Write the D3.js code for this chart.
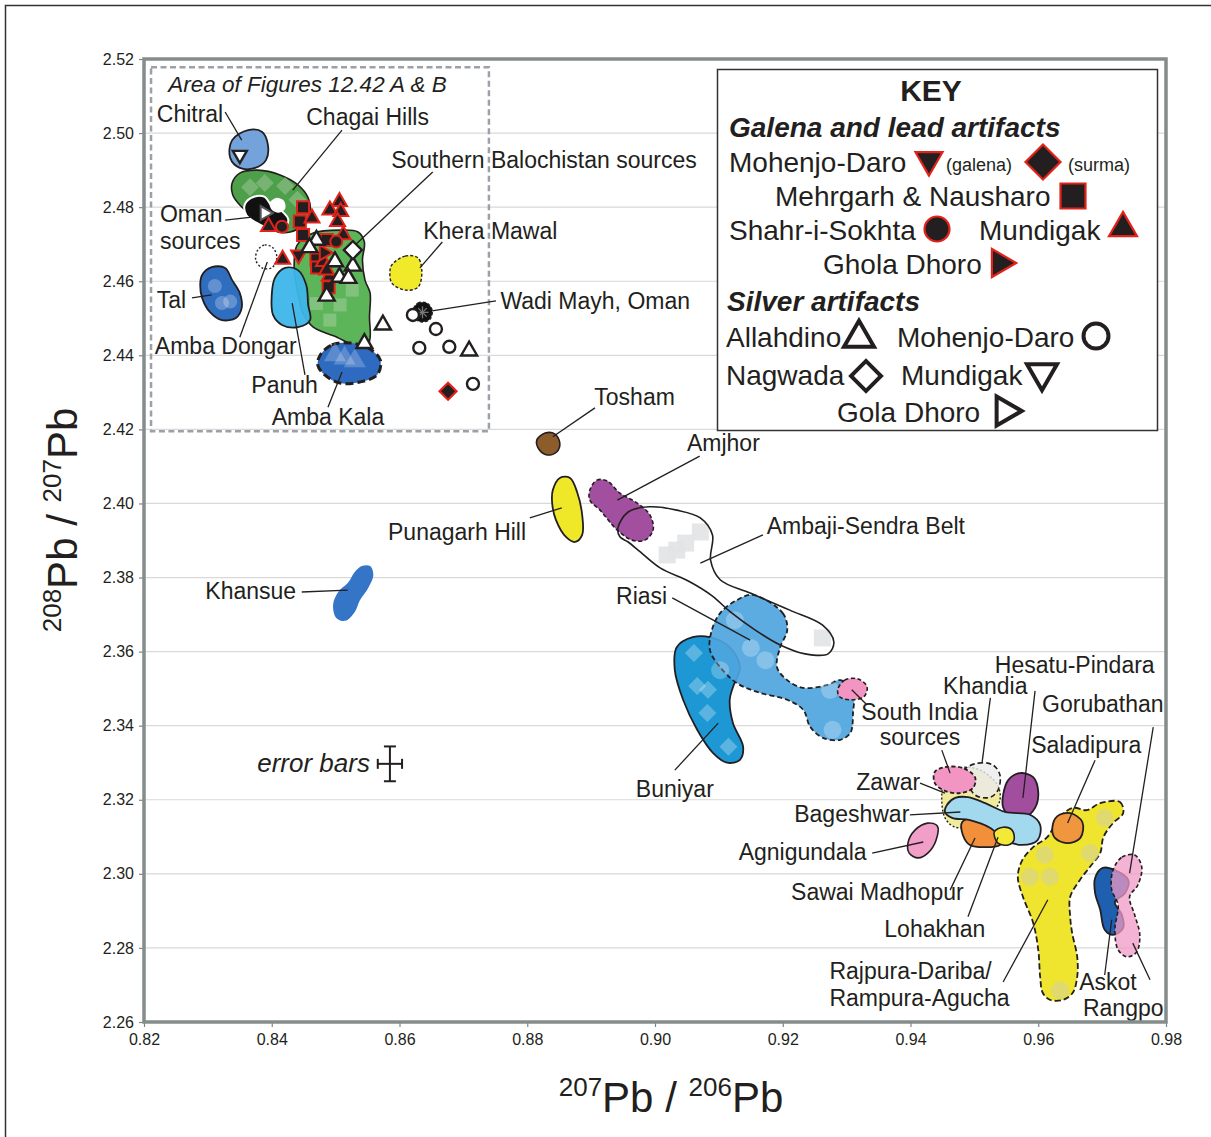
<!DOCTYPE html>
<html>
<head>
<meta charset="utf-8">
<script src="https://cdn.jsdelivr.net/npm/d3@7"></script>
<style>
  body { margin: 0; background: #fff; }
  svg { display: block; }
  text { font-family: "Liberation Sans", Arial, sans-serif; fill: #231f20; }
</style>
</head>
<body>
<svg id="chart" width="1211" height="1137"></svg>
<script>
// ---------- axis ticks ----------
const xTicks = [0.82, 0.84, 0.86, 0.88, 0.90, 0.92, 0.94, 0.96, 0.98];
const yTicks = [2.26, 2.28, 2.30, 2.32, 2.34, 2.36, 2.38, 2.40, 2.42, 2.44, 2.46, 2.48, 2.50, 2.52];

// ---------- ore source fields: outlines as [207Pb/206Pb, 208Pb/207Pb] ----------
const chitral = [[0.8338,2.4981],[0.8363,2.5008],[0.8385,2.5003],[0.8394,2.4968],[0.8391,2.4927],[0.8374,2.4906],[0.8350,2.4906],[0.8335,2.4933]];
const chagaiHills = [[0.8338,2.4865],[0.8350,2.4892],[0.8378,2.4900],[0.8413,2.4887],[0.8441,2.4860],[0.8457,2.4825],[0.8460,2.4787],[0.8449,2.4752],[0.8429,2.4733],[0.8400,2.4738],[0.8374,2.4771],[0.8350,2.4806],[0.8339,2.4833]];
const omanSources = [[0.8358,2.4808],[0.8372,2.4828],[0.8389,2.4828],[0.8400,2.4803],[0.8416,2.4789],[0.8426,2.4765],[0.8418,2.4741],[0.8397,2.4741],[0.8376,2.4758],[0.8360,2.4779]];
const omanGap = [[0.8397,2.4812],[0.8407,2.4825],[0.8419,2.4817],[0.8421,2.4795],[0.8411,2.4785],[0.8400,2.4793]];
const southernBalochistan = [[0.8440,2.4698],[0.8465,2.4730],[0.8507,2.4738],[0.8535,2.4733],[0.8545,2.4706],[0.8542,2.4657],[0.8546,2.4603],[0.8554,2.4568],[0.8553,2.4503],[0.8554,2.4449],[0.8549,2.4422],[0.8527,2.4428],[0.8502,2.4449],[0.8465,2.4476],[0.8449,2.4514],[0.8440,2.4576],[0.8435,2.4638]];
const ambaDongar = [[0.8378,2.4684],[0.8389,2.4698],[0.8402,2.4690],[0.8408,2.4663],[0.8400,2.4636],[0.8385,2.4636],[0.8375,2.4657]];
const tal = [[0.8291,2.4617],[0.8306,2.4638],[0.8327,2.4636],[0.8338,2.4603],[0.8350,2.4568],[0.8353,2.4528],[0.8344,2.4501],[0.8322,2.4495],[0.8303,2.4517],[0.8291,2.4555],[0.8288,2.4590]];
const panuh = [[0.8405,2.4609],[0.8421,2.4636],[0.8441,2.4630],[0.8454,2.4590],[0.8457,2.4536],[0.8460,2.4495],[0.8441,2.4476],[0.8416,2.4482],[0.8402,2.4509],[0.8400,2.4563]];
const ambaKala = [[0.8476,2.4401],[0.8494,2.4428],[0.8523,2.4433],[0.8551,2.4420],[0.8570,2.4387],[0.8565,2.4347],[0.8538,2.4328],[0.8507,2.4325],[0.8483,2.4347],[0.8472,2.4374]];
const kheraMawal = [[0.8588,2.4644],[0.8609,2.4668],[0.8629,2.4663],[0.8635,2.4625],[0.8629,2.4584],[0.8609,2.4576],[0.8588,2.4595],[0.8585,2.4625]];
const wadiMayh = [[0.8621,2.4522],[0.8629,2.4541],[0.8643,2.4541],[0.8651,2.4522],[0.8648,2.4498],[0.8635,2.4490],[0.8623,2.4501]];
const tosham = [[0.8815,2.4171],[0.8828,2.4190],[0.8843,2.4188],[0.8851,2.4163],[0.8846,2.4139],[0.8831,2.4131],[0.8818,2.4147]];
const punagarhHill = [[0.8840,2.4036],[0.8851,2.4069],[0.8867,2.4069],[0.8878,2.4031],[0.8886,2.3969],[0.8886,2.3915],[0.8875,2.3896],[0.8861,2.3909],[0.8845,2.3955],[0.8839,2.4001]];
const amjhor = [[0.8898,2.4036],[0.8909,2.4063],[0.8925,2.4061],[0.8945,2.4028],[0.8972,2.4001],[0.8992,2.3969],[0.8997,2.3928],[0.8984,2.3901],[0.8964,2.3901],[0.8941,2.3928],[0.8914,2.3982],[0.8898,2.4009]];
const ambajiSendra = [[0.8942,2.3934],[0.8958,2.3977],[0.8992,2.3991],[0.9034,2.3982],[0.9071,2.3961],[0.9090,2.3915],[0.9087,2.3847],[0.9102,2.3794],[0.9149,2.3758],[0.9211,2.3712],[0.9262,2.3672],[0.9280,2.3626],[0.9271,2.3594],[0.9235,2.3594],[0.9196,2.3618],[0.9157,2.3658],[0.9118,2.3707],[0.9090,2.3750],[0.9055,2.3788],[0.9008,2.3826],[0.8977,2.3869],[0.8958,2.3896],[0.8945,2.3910]];
const riasi = [[0.9153,2.3753],[0.9200,2.3704],[0.9207,2.3658],[0.9196,2.3612],[0.9191,2.3558],[0.9207,2.3523],[0.9232,2.3502],[0.9270,2.3510],[0.9290,2.3523],[0.9310,2.3497],[0.9310,2.3434],[0.9306,2.3381],[0.9290,2.3362],[0.9263,2.3367],[0.9243,2.3397],[0.9232,2.3443],[0.9207,2.3470],[0.9164,2.3489],[0.9128,2.3515],[0.9102,2.3558],[0.9086,2.3604],[0.9089,2.3658],[0.9102,2.3704],[0.9128,2.3739]];
const buniyar = [[0.9034,2.3612],[0.9059,2.3639],[0.9086,2.3639],[0.9117,2.3612],[0.9133,2.3558],[0.9122,2.3504],[0.9117,2.3470],[0.9122,2.3407],[0.9138,2.3343],[0.9133,2.3308],[0.9113,2.3300],[0.9091,2.3326],[0.9066,2.3389],[0.9044,2.3470],[0.9031,2.3550]];
const southIndiaNorth = [[0.9286,2.3497],[0.9297,2.3523],[0.9318,2.3526],[0.9332,2.3505],[0.9327,2.3478],[0.9305,2.3470],[0.9289,2.3478]];
const khansue = [[0.8496,2.3726],[0.8504,2.3761],[0.8519,2.3785],[0.8530,2.3815],[0.8541,2.3831],[0.8554,2.3831],[0.8559,2.3807],[0.8551,2.3772],[0.8538,2.3739],[0.8530,2.3707],[0.8515,2.3683],[0.8501,2.3691]];
const southIndiaSouth = [[0.9438,2.3275],[0.9454,2.3288],[0.9481,2.3286],[0.9501,2.3261],[0.9498,2.3232],[0.9478,2.3218],[0.9454,2.3224],[0.9438,2.3245]];
const khandia = [[0.9485,2.3280],[0.9506,2.3299],[0.9529,2.3294],[0.9540,2.3267],[0.9537,2.3226],[0.9525,2.3207],[0.9501,2.3213]];
const zawar = [[0.9449,2.3213],[0.9454,2.3253],[0.9478,2.3286],[0.9509,2.3280],[0.9536,2.3240],[0.9540,2.3199],[0.9525,2.3159],[0.9501,2.3132],[0.9470,2.3126],[0.9454,2.3151]];
const bageshwar = [[0.9457,2.3186],[0.9470,2.3205],[0.9490,2.3207],[0.9517,2.3191],[0.9548,2.3167],[0.9588,2.3159],[0.9603,2.3132],[0.9599,2.3091],[0.9575,2.3078],[0.9548,2.3091],[0.9525,2.3124],[0.9493,2.3145],[0.9465,2.3151],[0.9454,2.3167]];
const sawaiMadhopur = [[0.9481,2.3140],[0.9501,2.3151],[0.9532,2.3140],[0.9548,2.3105],[0.9540,2.3078],[0.9517,2.3072],[0.9493,2.3078],[0.9482,2.3105]];
const lohakhan = [[0.9531,2.3113],[0.9545,2.3126],[0.9559,2.3118],[0.9562,2.3091],[0.9553,2.3078],[0.9537,2.3083]];
const agnigundala = [[0.9396,2.3083],[0.9407,2.3118],[0.9427,2.3137],[0.9442,2.3129],[0.9440,2.3091],[0.9427,2.3056],[0.9412,2.3043],[0.9398,2.3056]];
const hesatuPindara = [[0.9545,2.3213],[0.9553,2.3253],[0.9571,2.3272],[0.9592,2.3261],[0.9600,2.3221],[0.9595,2.3178],[0.9579,2.3153],[0.9556,2.3156],[0.9545,2.3180]];
const saladipura = [[0.9622,2.3124],[0.9630,2.3156],[0.9650,2.3164],[0.9669,2.3140],[0.9666,2.3097],[0.9645,2.3083],[0.9626,2.3097]];
const rajpuraDariba = [[0.9697,2.3191],[0.9728,2.3194],[0.9733,2.3164],[0.9717,2.3137],[0.9702,2.3099],[0.9697,2.3056],[0.9681,2.3019],[0.9665,2.2983],[0.9650,2.2938],[0.9650,2.2884],[0.9653,2.2841],[0.9661,2.2776],[0.9661,2.2722],[0.9654,2.2679],[0.9639,2.2660],[0.9618,2.2660],[0.9607,2.2679],[0.9603,2.2722],[0.9600,2.2795],[0.9592,2.2868],[0.9576,2.2938],[0.9568,2.2992],[0.9575,2.3037],[0.9592,2.3072],[0.9614,2.3099],[0.9634,2.3153],[0.9654,2.3178],[0.9676,2.3172]];
const askot = [[0.9689,2.2989],[0.9701,2.3016],[0.9720,2.3010],[0.9741,2.2983],[0.9736,2.2948],[0.9720,2.2924],[0.9731,2.2889],[0.9733,2.2854],[0.9717,2.2835],[0.9704,2.2849],[0.9697,2.2903],[0.9689,2.2948]];
const rangpo = [[0.9717,2.3010],[0.9731,2.3045],[0.9751,2.3051],[0.9762,2.3019],[0.9756,2.2970],[0.9743,2.2938],[0.9751,2.2889],[0.9759,2.2835],[0.9754,2.2789],[0.9739,2.2776],[0.9725,2.2795],[0.9720,2.2849],[0.9725,2.2916],[0.9715,2.2957]];

// ---------- individual ore analyses shown faintly inside fields ----------
const chagaiOres = [[0.8366,2.4854],[0.8389,2.4865],[0.8421,2.4857],[0.8440,2.4820]];
const talOres = [[0.8311,2.4587],[0.8322,2.4541],[0.8335,2.4545]];
const ambaKalaOres = [[0.8499,2.4401],[0.8514,2.4392],[0.8530,2.4385]];
const balochOres = [[0.8491,2.4495],[0.8507,2.4536],[0.8526,2.4576],[0.8470,2.4540]];
const ambajiOres = [[0.9071,2.3923],[0.9034,2.3874],[0.9019,2.3861],[0.9048,2.3893],[0.9262,2.3637]];
const riasiOres = [[0.9125,2.3685],[0.9173,2.3577],[0.9102,2.3550],[0.9165,2.3456],[0.9278,2.3389],[0.9274,2.3497],[0.9150,2.3610]];
const buniyarOres = [[0.9061,2.3596],[0.9066,2.3507],[0.9083,2.3497],[0.9082,2.3434],[0.9115,2.3343]];
const rajpuraOres = [[0.9704,2.3151],[0.9610,2.3051],[0.9618,2.2992],[0.9587,2.2992],[0.9681,2.3056],[0.9634,2.2686]];

// ---------- artifact analyses ----------
const mohenjoDaroGalena = [[0.8442,2.4671]];
const mohenjoDaroSurma = [[0.8676,2.4303]];
const mehrgarhNausharo = [[0.8449,2.4800],[0.8444,2.4761],[0.8449,2.4725],[0.8486,2.4711],[0.8470,2.4659],[0.8471,2.4637],[0.8489,2.4584]];
const shahrISokhta = [[0.8416,2.4747],[0.8501,2.4707]];
const mundigakLead = [[0.8506,2.4815],[0.8491,2.4792],[0.8508,2.4788],[0.8463,2.4770],[0.8503,2.4761],[0.8395,2.4747],[0.8512,2.4725],[0.8417,2.4659],[0.8481,2.4653],[0.8490,2.4614],[0.8486,2.4630]];
const gholaDhoroLead = [[0.8482,2.4677]];
const allahdinoSilver = [[0.8470,2.4711],[0.8459,2.4691],[0.8499,2.4653],[0.8527,2.4641],[0.8506,2.4611],[0.8520,2.4608],[0.8486,2.4560],[0.8545,2.4432],[0.8574,2.4482],[0.8709,2.4412]];
const nagwadaSilver = [[0.8527,2.4684]];
const mohenjoDaroSilver = [[0.8621,2.4509],[0.8657,2.4471],[0.8631,2.4420],[0.8678,2.4423],[0.8715,2.4323]];
const mundigakSilver = [[0.8350,2.4941]];
const golaDhoroSilver = [[0.8389,2.4784]];

// ---------- measurement uncertainty ----------
const errorBar = { x: 0.8585, y: 2.3297, dx: 0.0019, dy: 0.0047 };

// ---------- region covered by Figures 12.42 A & B ----------
const insetArea = { x0: 0.8211, x1: 0.8740, y0: 2.4195, y1: 2.5178 };

// ---------- field labels [text, x, y] and leader lines ----------
const labels = [
  ["Chitral", 0.8220, 2.5030], ["Chagai Hills", 0.8454, 2.5022],
  ["Southern Balochistan sources", 0.8587, 2.4906],
  ["Oman", 0.8225, 2.4760], ["sources", 0.8225, 2.4687],
  ["Khera Mawal", 0.8637, 2.4714], ["Tal", 0.8220, 2.4528],
  ["Wadi Mayh, Oman", 0.8758, 2.4525], ["Amba Dongar", 0.8217, 2.4404],
  ["Panuh", 0.8368, 2.4298], ["Amba Kala", 0.8400, 2.4212],
  ["Tosham", 0.8905, 2.4266], ["Amjhor", 0.9050, 2.4142],
  ["Ambaji-Sendra Belt", 0.9175, 2.3918], ["Punagarh Hill", 0.8582, 2.3901],
  ["Khansue", 0.8296, 2.3742], ["Riasi", 0.8939, 2.3729], ["Buniyar", 0.8970, 2.3207],
  ["Hesatu-Pindara", 0.9532, 2.3542], ["Khandia", 0.9451, 2.3486],
  ["Gorubathan", 0.9606, 2.3437], ["South India", 0.9323, 2.3415], ["sources", 0.9352, 2.3349],
  ["Saladipura", 0.9589, 2.3326], ["Zawar", 0.9315, 2.3226], ["Bageshwar", 0.9218, 2.3140],
  ["Agnigundala", 0.9131, 2.3037], ["Sawai Madhopur", 0.9213, 2.2930],
  ["Lohakhan", 0.9359, 2.2830], ["Rajpura-Dariba/", 0.9273, 2.2716],
  ["Rampura-Agucha", 0.9273, 2.2643], ["Askot", 0.9664, 2.2686], ["Rangpo", 0.9670, 2.2616]
];
const leaders = [
  [[0.8327,2.5057],[0.8353,2.4981]], [[0.8510,2.5008],[0.8433,2.4846]],
  [[0.8652,2.4895],[0.8519,2.4679]], [[0.8327,2.4765],[0.8369,2.4773]],
  [[0.8275,2.4555],[0.8306,2.4563]], [[0.8350,2.4449],[0.8393,2.4652]],
  [[0.8452,2.4347],[0.8432,2.4541]], [[0.8488,2.4260],[0.8510,2.4355]],
  [[0.8667,2.4706],[0.8632,2.4636]], [[0.8651,2.4520],[0.8751,2.4547]],
  [[0.8906,2.4258],[0.8840,2.4180]], [[0.9070,2.4128],[0.8941,2.4009]],
  [[0.8804,2.3961],[0.8854,2.3988]], [[0.9169,2.3915],[0.9071,2.3839]],
  [[0.9027,2.3745],[0.9149,2.3631]], [[0.9031,2.3280],[0.9099,2.3407]],
  [[0.9332,2.3456],[0.9308,2.3497]], [[0.8447,2.3761],[0.8519,2.3766]],
  [[0.9449,2.3334],[0.9462,2.3272]], [[0.9525,2.3475],[0.9512,2.3299]],
  [[0.9595,2.3494],[0.9576,2.3205]], [[0.9780,2.3396],[0.9743,2.3002]],
  [[0.9689,2.3307],[0.9646,2.3137]], [[0.9415,2.3245],[0.9454,2.3218]],
  [[0.9399,2.3159],[0.9478,2.3167]], [[0.9340,2.3056],[0.9420,2.3086]],
  [[0.9462,2.2956],[0.9501,2.3097]], [[0.9490,2.2884],[0.9537,2.3099]],
  [[0.9545,2.2708],[0.9615,2.2930]], [[0.9704,2.2727],[0.9715,2.2876]],
  [[0.9775,2.2714],[0.9748,2.2813]]
];

// ---------- scales ----------
const x = d3.scaleLinear().domain([0.82, 0.98]).range([144, 1166]);
const y = d3.scaleLinear().domain([2.26, 2.52]).range([1022, 59]);

const INK = "#231f20", RED = "#e2231a";
const svg = d3.select("#chart");

// page border
svg.append("rect").attr("x", 5.5).attr("y", 5.5).attr("width", 1300).attr("height", 1300)
  .attr("fill", "none").attr("stroke", "#333").attr("stroke-width", 1.5);

// horizontal grid
svg.append("g").selectAll("line").data(yTicks.slice(1, -1)).join("line")
  .attr("x1", x(0.82)).attr("x2", x(0.98))
  .attr("y1", d => y(d)).attr("y2", d => y(d))
  .attr("stroke", "#d9d9d9").attr("stroke-width", 1.2);

// axes
const fmt = d3.format(".2f");
const ax = svg.append("g").attr("transform", `translate(0,${y(2.26)})`)
  .call(d3.axisBottom(x).tickValues(xTicks).tickFormat(fmt).tickSize(5).tickPadding(7));
const ay = svg.append("g").attr("transform", `translate(${x(0.82)},0)`)
  .call(d3.axisLeft(y).tickValues(yTicks).tickFormat(fmt).tickSize(5).tickPadding(5));
[ax, ay].forEach(g => {
  g.select(".domain").remove();
  g.selectAll(".tick line").attr("stroke", "#7d8585").attr("stroke-width", 1.2);
  g.selectAll(".tick text").attr("font-size", 16).attr("fill", INK)
    .attr("font-family", '"Liberation Sans", Arial, sans-serif');
});

// inset area outline
svg.append("rect")
  .attr("x", x(insetArea.x0)).attr("y", y(insetArea.y1))
  .attr("width", x(insetArea.x1) - x(insetArea.x0))
  .attr("height", y(insetArea.y0) - y(insetArea.y1))
  .attr("fill", "none").attr("stroke", "#9ba1a6").attr("stroke-width", 2.5)
  .attr("stroke-dasharray", "6,3.5");
svg.append("text").attr("x", x(0.8238)).attr("y", y(2.5111))
  .attr("font-size", 22.5).attr("font-style", "italic").text("Area of Figures 12.42 A & B");

// ---------- helpers ----------
const blob = d3.line().x(d => x(d[0])).y(d => y(d[1])).curve(d3.curveCatmullRomClosed.alpha(0.5));
const gFields = svg.append("g");

function field(pts, fill, opts = {}) {
  return gFields.append("path").attr("d", blob(pts))
    .attr("fill", fill).attr("fill-opacity", opts.op ?? 1)
    .attr("stroke", opts.stroke ?? INK).attr("stroke-width", opts.sw ?? 1.8)
    .attr("stroke-dasharray", opts.dash ?? null).attr("stroke-linejoin", "round");
}

const shapes = {
  up: [d3.symbolTriangle, 0], down: [d3.symbolTriangle, 180], right: [d3.symbolTriangle, 90],
  square: [d3.symbolSquare, 0], diamond: [d3.symbolSquare, 45], circle: [d3.symbolCircle, 0]
};
function area(shape, s) {
  if (shape === "circle") return Math.PI * s * s / 4;
  if (shape === "square") return s * s;
  if (shape === "diamond") return s * s / 2;
  return Math.sqrt(3) / 4 * s * s;
}
function symbolAt(g, px, py, shape, s, fill, stroke, sw, op = 1) {
  const [type, rot] = shapes[shape];
  g.append("path").attr("d", d3.symbol().type(type).size(area(shape, s))())
    .attr("transform", `translate(${px},${py}) rotate(${rot})`)
    .attr("fill", fill).attr("fill-opacity", op)
    .attr("stroke", stroke).attr("stroke-width", sw).attr("stroke-linejoin", "miter");
}
function faint(pts, shape, s, color = "#ffffff", op = 0.28) {
  pts.forEach(d => symbolAt(gFields, x(d[0]), y(d[1]), shape, s, color, "none", 0, op));
}

// ---------- fields (back to front) ----------
// inset region
field(chagaiHills, "#4d9f49", { sw: 1.6 });
faint(chagaiOres, "diamond", 18, "#9bc596", 0.55);
field(southernBalochistan, "#5cb558", { sw: 1.6 });
faint(balochOres, "square", 13, "#a5d29f", 0.5);
field(chitral, "#73a3da", { sw: 1.8 });
field(omanSources, "#111111", { stroke: "#ffffff", sw: 2 });
field(omanGap, "#ffffff", { stroke: "none" });
field(ambaDongar, "#ffffff", { sw: 1.4, dash: "2,2" });
field(tal, "#2f6dbf");
faint(talOres, "circle", 14, "#ffffff", 0.25);
field(panuh, "#3db6ea", { op: 0.95 });
field(ambaKala, "#2e6bc0", { sw: 3, dash: "8,4" });
faint(ambaKalaOres, "up", 22, "#ffffff", 0.22);
field(kheraMawal, "#f0ea2a", { sw: 1.4, dash: "3,2" });
field(wadiMayh, "#111111", { sw: 1.4, dash: "3,2" });

// Wadi Mayh asterisk
const wm = [x(0.8636), y(2.4516)];
[0, 45, 90, 135].forEach(a => {
  const r = 6, t = a * Math.PI / 180;
  gFields.append("line").attr("x1", wm[0] - r * Math.cos(t)).attr("y1", wm[1] - r * Math.sin(t))
    .attr("x2", wm[0] + r * Math.cos(t)).attr("y2", wm[1] + r * Math.sin(t))
    .attr("stroke", "#777").attr("stroke-width", 1.3);
});

// central fields
field(khansue, "#3575c8", { stroke: "none" });
field(tosham, "#8c5c2a", { sw: 1.6 });
field(punagarhHill, "#eee829", { sw: 1.8 });
field(ambajiSendra, "#ffffff", { stroke: "none" });
faint(ambajiOres, "square", 17, "#e2e3e4", 0.9);
field(buniyar, "#1d98d4", { sw: 1.8 });
faint(buniyarOres, "diamond", 18, "#ffffff", 0.28);
field(riasi, "#4ea5de", { op: 0.92, sw: 1.8, dash: "5,3" });
faint(riasiOres, "circle", 18, "#ffffff", 0.25);
field(southIndiaNorth, "#f295c2", { sw: 1.6, dash: "4,2.5" });
field(amjhor, "#a24fa0", { sw: 1.6, dash: "4,2.5" });
field(ambajiSendra, "none", { sw: 1.6 });

// eastern Indian fields
field(zawar, "#ede88c", { op: 0.85, sw: 1.4, dash: "2,2" });
field(khandia, "#ebebeb", { op: 0.8, sw: 1.6, dash: "5,3" });
field(southIndiaSouth, "#f295c2", { sw: 1.8, dash: "4,2.5" });
field(hesatuPindara, "#a24e9f", { sw: 1.8 });
field(sawaiMadhopur, "#f28f3b", { sw: 1.8 });
field(bageshwar, "#a3d9ef", { sw: 1.8 });
field(lohakhan, "#f2ea36", { sw: 1.6 });
field(agnigundala, "#f19ec9", { sw: 1.6 });
field(rajpuraDariba, "#efe52e", { sw: 1.8, dash: "6,3" });
faint(rajpuraOres, "circle", 18, "#d9d48a", 0.7);
field(saladipura, "#f0963f", { sw: 1.8 });
field(askot, "#1e5fb0", { sw: 1.8 });
field(rangpo, "#f09ac6", { op: 0.75, sw: 1.6, dash: "4,2.5" });

// ---------- leaders and labels ----------
const gLab = svg.append("g");
gLab.selectAll("line").data(leaders).join("line")
  .attr("x1", d => x(d[0][0])).attr("y1", d => y(d[0][1]))
  .attr("x2", d => x(d[1][0])).attr("y2", d => y(d[1][1]))
  .attr("stroke", INK).attr("stroke-width", 1.3);
gLab.selectAll("text").data(labels).join("text")
  .attr("x", d => x(d[1])).attr("y", d => y(d[2]))
  .attr("font-size", 23).text(d => d[0]);

// ---------- artifact markers ----------
const gArt = svg.append("g");
function plot(pts, shape, s, fill, stroke, sw) {
  pts.forEach(d => symbolAt(gArt, x(d[0]), y(d[1]), shape, s, fill, stroke, sw));
}
plot(mehrgarhNausharo, "square", 12, INK, RED, 2);
plot(mundigakLead, "up", 15, INK, RED, 2);
plot(shahrISokhta, "circle", 12, INK, RED, 2);
plot(mohenjoDaroGalena, "down", 15, INK, RED, 2);
plot(gholaDhoroLead, "right", 15, INK, RED, 2);
plot(mohenjoDaroSurma, "diamond", 17, INK, RED, 2.2);
plot(allahdinoSilver, "up", 16, "#ffffff", INK, 2.4);
plot(nagwadaSilver, "diamond", 18, "#ffffff", INK, 2.4);
plot(mohenjoDaroSilver, "circle", 12, "#ffffff", INK, 2.4);
plot(mundigakSilver, "down", 14, "#ffffff", INK, 2.4);
plot(golaDhoroSilver, "right", 14, "#ffffff", "#555", 2);

// error bars
const eb = svg.append("g").attr("stroke", INK).attr("stroke-width", 2);
eb.append("line").attr("x1", x(errorBar.x - errorBar.dx)).attr("x2", x(errorBar.x + errorBar.dx))
  .attr("y1", y(errorBar.y)).attr("y2", y(errorBar.y));
eb.append("line").attr("x1", x(errorBar.x)).attr("x2", x(errorBar.x))
  .attr("y1", y(errorBar.y - errorBar.dy)).attr("y2", y(errorBar.y + errorBar.dy));
[-1, 1].forEach(s => {
  eb.append("line").attr("x1", x(errorBar.x + s * errorBar.dx)).attr("x2", x(errorBar.x + s * errorBar.dx))
    .attr("y1", y(errorBar.y) - 5).attr("y2", y(errorBar.y) + 5);
  eb.append("line").attr("y1", y(errorBar.y + s * errorBar.dy)).attr("y2", y(errorBar.y + s * errorBar.dy))
    .attr("x1", x(errorBar.x) - 6).attr("x2", x(errorBar.x) + 6);
});
svg.append("text").attr("x", x(errorBar.x) - 20).attr("y", y(errorBar.y) + 8)
  .attr("text-anchor", "end").attr("font-size", 26).attr("font-style", "italic").text("error bars");

// plot frame
svg.append("rect").attr("x", x(0.82)).attr("y", y(2.52))
  .attr("width", x(0.98) - x(0.82)).attr("height", y(2.26) - y(2.52))
  .attr("fill", "none").attr("stroke", "#858c8c").attr("stroke-width", 3.5);

// ---------- key ----------
const key = svg.append("g");
key.append("rect").attr("x", 717.5).attr("y", 69.5).attr("width", 440).attr("height", 361)
  .attr("fill", "#ffffff").attr("stroke", "#333").attr("stroke-width", 1.5);
function kt(str, px, py, size, weight, style) {
  key.append("text").attr("x", px).attr("y", py).attr("font-size", size)
    .attr("font-weight", weight || null).attr("font-style", style || null).text(str);
}
key.append("text").attr("x", 931).attr("y", 101).attr("text-anchor", "middle")
  .attr("font-size", 30).attr("font-weight", "bold").text("KEY");
kt("Galena and lead artifacts", 729, 137, 28, "bold", "italic");
kt("Mohenjo-Daro", 729, 172, 28);
symbolAt(key, 929, 160, "down", 27, INK, RED, 2.2);
kt("(galena)", 946, 171, 18);
symbolAt(key, 1043, 162, "diamond", 35, INK, RED, 2.2);
kt("(surma)", 1068, 171, 18);
kt("Mehrgarh & Nausharo", 775, 206, 28);
symbolAt(key, 1073, 196, "square", 25, INK, RED, 2.2);
kt("Shahr-i-Sokhta", 729, 240, 28);
symbolAt(key, 937, 229, "circle", 25, INK, RED, 2.2);
kt("Mundigak", 979, 240, 28);
symbolAt(key, 1123, 228, "up", 28, INK, RED, 2.2);
kt("Ghola Dhoro", 823, 274, 28);
symbolAt(key, 1000, 263, "right", 28, INK, RED, 2.2);
kt("Silver artifacts", 727, 311, 28, "bold", "italic");
kt("Allahdino", 726, 347, 28);
symbolAt(key, 859, 338, "up", 30, "#ffffff", INK, 4);
kt("Mohenjo-Daro", 897, 347, 28);
symbolAt(key, 1096, 336, "circle", 25, "#ffffff", INK, 4);
kt("Nagwada", 726, 385, 28);
symbolAt(key, 866, 376, "diamond", 30, "#ffffff", INK, 4);
kt("Mundigak", 901, 385, 28);
symbolAt(key, 1042, 373, "down", 30, "#ffffff", INK, 4);
kt("Gola Dhoro", 837, 422, 28);
symbolAt(key, 1005, 411, "right", 29, "#ffffff", INK, 4);

// ---------- axis titles ----------
const xt = svg.append("text").attr("x", 671).attr("y", 1112).attr("text-anchor", "middle").attr("font-size", 42);
xt.append("tspan").attr("font-size", 26).attr("dy", -16).text("207");
xt.append("tspan").attr("dy", 16).text("Pb / ");
xt.append("tspan").attr("font-size", 26).attr("dy", -16).text("206");
xt.append("tspan").attr("dy", 16).text("Pb");

const yt = svg.append("text").attr("transform", "translate(77,520) rotate(-90)")
  .attr("text-anchor", "middle").attr("font-size", 42);
yt.append("tspan").attr("font-size", 26).attr("dy", -16).text("208");
yt.append("tspan").attr("dy", 16).text("Pb / ");
yt.append("tspan").attr("font-size", 26).attr("dy", -16).text("207");
yt.append("tspan").attr("dy", 16).text("Pb");
</script>
</body>
</html>
